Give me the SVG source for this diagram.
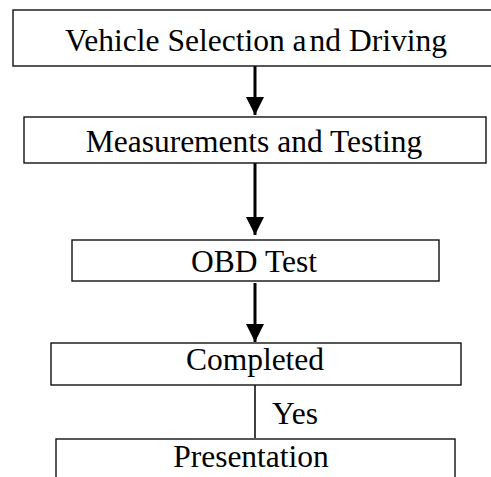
<svg xmlns="http://www.w3.org/2000/svg" width="491" height="477" viewBox="0 0 491 477">
<style>
.box{fill:#fff;stroke:#111;stroke-width:1.4}
.t{font-family:"Liberation Serif","Times New Roman",serif;font-size:31.5px;fill:#000;text-anchor:middle}
.arr{stroke:#000;stroke-width:3;fill:none}
.thin{stroke:#000;stroke-width:1.5;fill:none}
</style>
<defs>
<marker id="ah" markerUnits="userSpaceOnUse" markerWidth="18" markerHeight="18" viewBox="0 0 18 18" refX="18" refY="9" orient="auto">
<path d="M0,0 L18,9 L0,18 Z" fill="#000"/>
</marker>
</defs>
<rect width="491" height="477" fill="#fff"/>
<g id="connectors">
<line class="arr" x1="255" y1="66" x2="255" y2="115" marker-end="url(#ah)"/>
<line class="arr" x1="255" y1="163" x2="255" y2="235" marker-end="url(#ah)"/>
<line class="arr" x1="255" y1="283" x2="255" y2="342" marker-end="url(#ah)"/>
<line class="thin" x1="255" y1="385" x2="255" y2="438"/>
<text class="t" x="295" y="424">Yes</text>
</g>
<g id="n1">
<rect class="box" x="13" y="10" width="482" height="56"/>
<text class="t" x="256" y="51">Vehicle Selection a<tspan dx="3">nd Driving</tspan></text>
</g>
<g id="n2">
<rect class="box" x="24" y="117" width="462" height="46"/>
<text class="t" x="254" y="152">Measurements and Testing</text>
</g>
<g id="n3">
<rect class="box" x="72" y="240" width="367" height="41"/>
<text class="t" x="254" y="272">OBD Test</text>
</g>
<g id="n4">
<rect class="box" x="51" y="343" width="410" height="42"/>
<text class="t" x="255" y="370">Completed</text>
</g>
<g id="n5">
<rect class="box" x="56" y="439" width="399" height="45"/>
<text class="t" x="251" y="467">Presentation</text>
</g>
</svg>
